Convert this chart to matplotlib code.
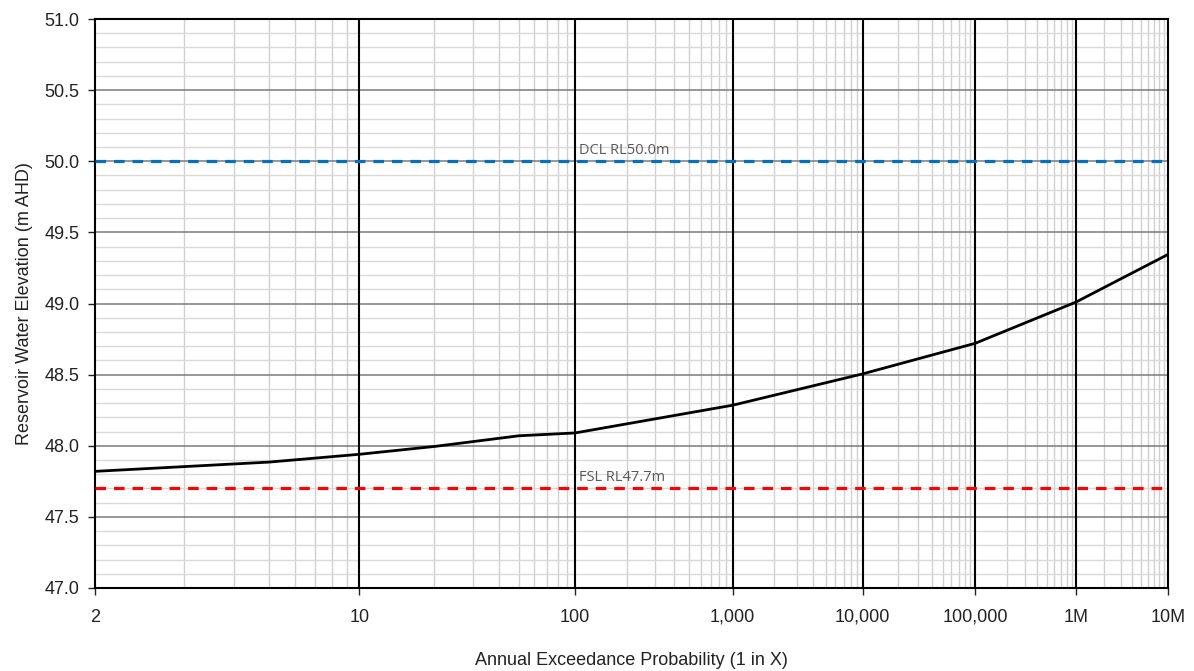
import math
import numpy as np
import matplotlib
matplotlib.use("Agg")
import matplotlib.pyplot as plt
from matplotlib.ticker import FixedLocator, FixedFormatter, MultipleLocator, FormatStrFormatter

# ---- data ----
aep_x = [2, 5, 10, 20, 50, 100, 1000, 10000, 100000, 1000000, 10000000]
elev = [47.82, 47.885, 47.94, 47.995, 48.07, 48.09, 48.285, 48.505, 48.72, 49.01, 49.345]
dcl_level = 50.0
fsl_level = 47.7
dcl_label = "DCL RL50.0m"
fsl_label = "FSL RL47.7m"
major_ticks = [2, 10, 100, 1000, 10000, 100000, 1000000, 10000000]
major_labels = ["2", "10", "100", "1,000", "10,000", "100,000", "1M", "10M"]
y_major = [47.0, 47.5, 48.0, 48.5, 49.0, 49.5, 50.0, 50.5, 51.0]

# ---- normal probability scale ----
def _norm_ppf(p):
    p = np.asarray(p, dtype=float)
    a = [-3.969683028665376e+01, 2.209460984245205e+02, -2.759285104469687e+02,
         1.383577518672690e+02, -3.066479806614716e+01, 2.506628277459239e+00]
    b = [-5.447609879822406e+01, 1.615858368580409e+02, -1.556989798598866e+02,
         6.680131188771972e+01, -1.328068155288572e+01]
    c = [-7.784894002430293e-03, -3.223964580411365e-01, -2.400758277161838e+00,
         -2.549732539343734e+00, 4.374664141464968e+00, 2.938163982698783e+00]
    d = [7.784695709041462e-03, 3.224671290700398e-01, 2.445134137142996e+00,
         3.754408661907416e+00]
    plow = 0.02425
    phigh = 1 - plow
    out = np.zeros_like(p)
    lo = p < plow
    hi = p > phigh
    mid = ~(lo | hi)
    q = np.sqrt(-2 * np.log(p[lo]))
    out[lo] = (((((c[0]*q+c[1])*q+c[2])*q+c[3])*q+c[4])*q+c[5]) / ((((d[0]*q+d[1])*q+d[2])*q+d[3])*q+1)
    q = p[mid] - 0.5
    r = q*q
    out[mid] = (((((a[0]*r+a[1])*r+a[2])*r+a[3])*r+a[4])*r+a[5])*q / (((((b[0]*r+b[1])*r+b[2])*r+b[3])*r+b[4])*r+1)
    q = np.sqrt(-2 * np.log(1 - p[hi]))
    out[hi] = -(((((c[0]*q+c[1])*q+c[2])*q+c[3])*q+c[4])*q+c[5]) / ((((d[0]*q+d[1])*q+d[2])*q+d[3])*q+1)
    return out

_erfc = np.vectorize(math.erfc)

def forward(x):
    x = np.asarray(x, dtype=float)
    x = np.clip(x, 1.0 + 1e-9, 1e300)
    p = 1.0 / x
    return -_norm_ppf(p)

def inverse(z):
    z = np.asarray(z, dtype=float)
    z = np.clip(z, -30, 30)
    tail = 0.5 * _erfc(z / math.sqrt(2))
    tail = np.clip(tail, 1e-300, 1.0)
    return 1.0 / tail

# ---- figure ----
plt.rcParams['font.family'] = ['Liberation Sans', 'DejaVu Sans']
fig = plt.figure(figsize=(11.94, 6.71), dpi=100)
ax = fig.add_axes([95/1194, 1 - 588/671, (1168-95)/1194, (588-19)/671])

ax.set_xscale('function', functions=(forward, inverse))
ax.set_xlim(2, 1e7)
ax.set_ylim(47.0, 51.0)

minor = []
for k in range(0, 7):
    for m in range(2, 10):
        v = m * 10**k
        if v > 2 and v < 1e7 and v not in major_ticks:
            minor.append(v)
ax.xaxis.set_major_locator(FixedLocator(major_ticks))
ax.xaxis.set_major_formatter(FixedFormatter(major_labels))
ax.xaxis.set_minor_locator(FixedLocator(minor))
ax.xaxis.set_minor_formatter(FixedFormatter([]))

ax.yaxis.set_major_locator(FixedLocator(y_major))
ax.yaxis.set_minor_locator(MultipleLocator(0.1))
ax.yaxis.set_major_formatter(FormatStrFormatter('%.1f'))

# light minor grid
ax.grid(axis='y', which='minor', color='#d9d9d9', lw=1.0, zorder=0)
ax.grid(axis='x', which='minor', color='#d0d0d0', lw=1.0, zorder=0)
ax.set_axisbelow(True)

# major grid lines drawn above the minor grid
for yv in y_major[1:-1]:
    ax.axhline(yv, color='#7a7a7a', lw=1.1, zorder=1)
for xv in major_ticks[1:-1]:
    ax.axvline(xv, color='#000000', lw=1.5, zorder=1.5)

for s in ax.spines.values():
    s.set_color('black')
    s.set_linewidth(1.5)

ax.tick_params(axis='both', which='major', direction='out', length=5, width=1,
               labelsize=13, colors='#222222', pad=6)
ax.tick_params(axis='x', which='major', pad=10)
ax.tick_params(axis='both', which='minor', length=0)

ax.axhline(dcl_level, color='#0070C0', lw=2.3, ls=(0, (3.3, 2.5)), zorder=3)
ax.axhline(fsl_level, color='#FF0000', lw=2.3, ls=(0, (3.3, 2.5)), zorder=3)
ax.plot(aep_x, elev, color='black', lw=2.0, zorder=4)

ax.text(105, dcl_level + 0.025, dcl_label, fontsize=10.5, color='#595959',
        family=['Open Sans', 'DejaVu Sans'], va='bottom', ha='left', zorder=5)
ax.text(105, fsl_level + 0.025, fsl_label, fontsize=10.5, color='#595959',
        family=['Open Sans', 'DejaVu Sans'], va='bottom', ha='left', zorder=5)

ax.set_ylabel('Reservoir Water Elevation (m AHD)', fontsize=13, color='#222222', labelpad=8)
ax.set_xlabel('Annual Exceedance Probability (1 in X)', fontsize=13, color='#222222', labelpad=19)

fig.savefig('out.png', dpi=100)
